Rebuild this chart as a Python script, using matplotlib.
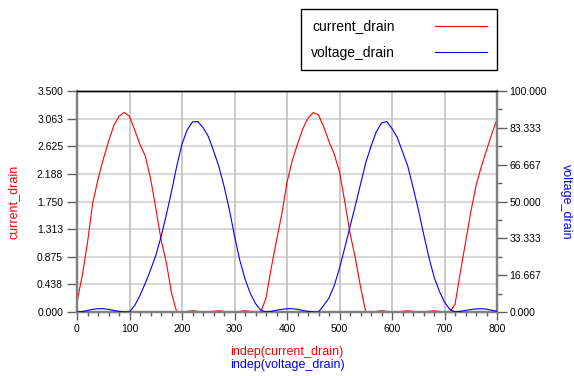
import matplotlib
matplotlib.use("Agg")
import matplotlib.pyplot as plt
from matplotlib.ticker import MultipleLocator, FixedLocator

plt.rcParams['font.family'] = ['Liberation Sans', 'DejaVu Sans']

# independent variable
indep = list(range(0, 801, 10))

# current_drain (left axis)
current_drain = [
    0.16, 0.58, 1.10, 1.73, 2.10, 2.42, 2.70, 2.95, 3.10, 3.16,
    3.10, 2.88, 2.65, 2.47, 2.12, 1.65, 1.15, 0.79, 0.30, 0.00,
    0.00, 0.01, 0.02, 0.01, 0.00, 0.00, 0.01, 0.02, 0.01, 0.00,
    0.00, 0.01, 0.02, 0.01, 0.00, 0.00, 0.22, 0.70, 1.13, 1.55,
    2.05, 2.40, 2.66, 2.90, 3.07, 3.16, 3.12, 2.93, 2.70, 2.50,
    2.22, 1.75, 1.25, 0.86, 0.40, 0.00, 0.00, 0.01, 0.02, 0.01,
    0.00, 0.00, 0.01, 0.02, 0.01, 0.00, 0.00, 0.01, 0.02, 0.01,
    0.00, 0.00, 0.12, 0.62, 1.10, 1.58, 2.00, 2.30, 2.56, 2.82,
    3.05,
]

# voltage_drain (right axis)
voltage_drain = [
    0.0, 0.2, 0.7, 1.2, 1.5, 1.5, 1.2, 0.7, 0.3, 0.05,
    0.0, 3.0, 7.5, 13.0, 19.0, 25.5, 34.0, 43.8, 54.5, 66.0,
    76.0, 82.5, 86.0, 86.2, 83.5, 79.5, 73.0, 66.0, 57.0, 46.5,
    34.5, 23.5, 15.0, 8.5, 3.8, 0.8, 0.05, 0.3, 0.8, 1.2,
    1.5, 1.5, 1.2, 0.7, 0.3, 0.05, 0.0, 3.0, 6.3, 12.0,
    19.8, 29.0, 38.6, 48.0, 57.8, 67.5, 75.0, 81.5, 85.5, 86.2,
    83.0, 79.0, 72.5, 66.0, 56.5, 46.5, 35.5, 25.0, 16.0, 9.5,
    4.5, 1.2, 0.05, 0.3, 0.7, 1.1, 1.4, 1.5, 1.3, 0.8,
    0.3,
]

left_ticks = [0.0, 0.4375, 0.875, 1.3125, 1.75, 2.1875, 2.625, 3.0625, 3.5]
left_labels = ["0.000", "0.438", "0.875", "1.313", "1.750", "2.188", "2.625", "3.063", "3.500"]
right_ticks = [0, 100 / 6, 200 / 6, 50, 400 / 6, 500 / 6, 100]
right_labels = ["0.000", "16.667", "33.333", "50.000", "66.667", "83.333", "100.000"]

fig = plt.figure(figsize=(5.74, 3.76), dpi=100)
ax = fig.add_axes([77 / 574, 1 - 312 / 376, 420 / 574, 221 / 376])
ax2 = ax.twinx()

l1, = ax.plot(indep, current_drain, color="#ff0000", lw=0.8, zorder=3)
l2, = ax2.plot(indep, voltage_drain, color="#0000ff", lw=0.8, zorder=3)

ax.set_xlim(0, 800)
ax.set_ylim(0, 3.5)
ax2.set_ylim(0, 100)

ax.xaxis.set_major_locator(MultipleLocator(100))
ax.xaxis.set_minor_locator(MultipleLocator(20))
ax.yaxis.set_major_locator(FixedLocator(left_ticks))
ax.set_yticklabels(left_labels)
ax2.yaxis.set_major_locator(FixedLocator(right_ticks))
ax2.yaxis.set_minor_locator(FixedLocator([v + 100 / 12 for v in right_ticks[:-1]]))
ax2.set_yticklabels(right_labels)

# grid
for t in left_ticks[1:-1]:
    ax.axhline(t, color="#d4d4d4", lw=1.3, zorder=0)
for t in range(100, 800, 100):
    ax.axvline(t, color="#c0c0c0", lw=1.2, zorder=0)

# spines
for a in (ax, ax2):
    for side in ("left", "bottom", "right"):
        a.spines[side].set_color("#808080")
        a.spines[side].set_linewidth(1.6)
    a.spines["top"].set_color("black")
    a.spines["top"].set_linewidth(1.0)

ax.tick_params(axis="x", which="major", length=6, width=1, color="#606060",
               labelsize=7.5, pad=3)
ax.tick_params(axis="x", which="minor", length=3, width=1, color="#606060")
ax.tick_params(axis="y", which="major", length=7, width=1, color="#606060",
               labelsize=7.5, pad=3)
ax2.tick_params(axis="y", which="major", length=7, width=1, color="#606060",
                labelsize=7.5, pad=2)
ax2.tick_params(axis="y", which="minor", length=3.5, width=1, color="#606060")

ax.set_ylabel("current_drain", color="#ff0000", fontsize=9, labelpad=12)
ax2.set_ylabel("voltage_drain", color="#0000ff", fontsize=9, rotation=270, labelpad=18)

fig.text(0.5 * (77 + 497) / 574, 1 - 352 / 376, "indep(current_drain)",
         color="#ff0000", fontsize=9, ha="center", va="center")
fig.text(0.5 * (77 + 497) / 574, 1 - 365 / 376, "indep(voltage_drain)",
         color="#0000ff", fontsize=9, ha="center", va="center")

leg = fig.legend([l1, l2], ["current_drain", "voltage_drain"],
                 loc="upper right", bbox_to_anchor=(497 / 574, 1 - 9 / 376),
                 markerfirst=False, fancybox=False, framealpha=1,
                 edgecolor="black", fontsize=10, handlelength=3.7,
                 handletextpad=2.9, borderpad=0.75, labelspacing=0.9,
                 borderaxespad=0)
leg.get_frame().set_linewidth(1.0)

fig.savefig("out.png", dpi=100)
